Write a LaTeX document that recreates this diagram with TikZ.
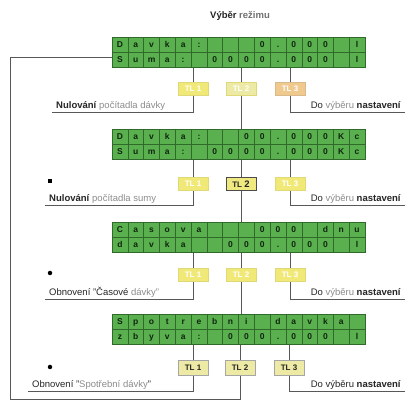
\documentclass[tikz,border=0pt]{standalone}
\usepackage{fontspec}
\setmainfont{Liberation Sans}
\usetikzlibrary{calc}
\definecolor{lcdgreen}{HTML}{5AB04E}
\definecolor{lcdgrid}{HTML}{2F6A2A}
\definecolor{lcdtext}{HTML}{0F260F}
\definecolor{wire}{HTML}{585858}
\definecolor{btnyel}{HTML}{F1E977}
\definecolor{btnpale}{HTML}{EDEAA6}
\definecolor{btnorange}{HTML}{EFC98E}
\definecolor{txtdark}{HTML}{262626}
\definecolor{txtgray}{HTML}{8C8C8C}
\tikzset{
  lcdbox/.style={rectangle, fill=lcdgreen, draw=lcdgrid, line width=0.7pt, minimum width=253pt, minimum height=30pt, inner sep=0pt},
  lcdgridline/.style={draw=lcdgrid, line width=0.5pt},
  lcdch/.style={font=\fontsize{8.5}{9}\selectfont\bfseries, text=lcdtext, inner sep=0pt, text height=6.2pt, text depth=0pt},
  btn/.style={rectangle, minimum width=30pt, minimum height=13pt, inner sep=0pt, font=\fontsize{8}{9}\selectfont\bfseries},
  btnw/.style={btn, fill=btnyel, draw=btnyel!85!gray, text=white},
  btnd/.style={btn, fill=btnpale, draw=gray!70, text=txtdark},
  wire/.style={draw=wire, line width=0.9pt},
  lbl/.style={font=\fontsize{9.5}{10}\selectfont, text=txtdark, inner xsep=4pt, inner ysep=1.5pt},
  bulletsq/.style={rectangle, fill=black, minimum size=4pt, inner sep=0pt},
}
\newcommand{\lcdpanel}[4]{%
  \node[lcdbox, anchor=north west] (#1) at (112,#2) {};
  \foreach \k in {1,...,15}
    \draw[lcdgridline] ($(#1.north west)+(\k*15.8125,0)$) -- ($(#1.south west)+(\k*15.8125,0)$);
  \draw[lcdgridline] (#1.west) -- (#1.east);
  \foreach \c [count=\i from 0] in {#3}
    \node[lcdch] at ($(#1.north west)+(\i*15.8125+7.906,7.5)$) {\c};
  \foreach \c [count=\i from 0] in {#4}
    \node[lcdch] at ($(#1.north west)+(\i*15.8125+7.906,22.5)$) {\c};
}
\begin{document}
\begin{tikzpicture}[x=1pt, y=-1pt]
\useasboundingbox[fill=white] (0,0) rectangle (408,406);

\node[font=\fontsize{9.5}{10}\selectfont\bfseries, text=txtdark] (title) at (240,16) {Výběr \textcolor{txtgray!80!black}{režimu}};

% displays
\lcdpanel{d1}{37}{D,a,v,k,a,:,{},{},{},0,.,0,0,0,{},l}{S,u,m,a,:,{},0,0,0,0,.,0,0,0,{},l}
\lcdpanel{d2}{129}{D,a,v,k,a,:,{},{},0,0,.,0,0,0,K,c}{S,u,m,a,:,{},0,0,0,0,.,0,0,0,K,c}
\lcdpanel{d3}{222}{C,a,s,o,v,a,{},{},{},0,0,0,{},d,n,u}{d,a,v,k,a,{},{},0,0,0,.,0,0,0,{},l}
\lcdpanel{d4}{314}{S,p,o,t,r,e,b,n,i,{},d,a,v,k,a,{}}{z,b,y,v,a,:,{},0,0,0,.,0,0,0,{},l}

% buttons
\node[btnw] (b11) at (193,89) {TL 1};
\node[btnw, fill=btnpale] (b12) at (241,89) {TL 2};
\node[btnw, fill=btnorange, draw=btnorange!80!gray] (b13) at (290,89) {TL 3};
\node[btnw] (b21) at (193,184) {TL 1};
\node[btnd, draw=black!70, line width=0.8pt, fill=btnyel!80!btnpale] (b22) at (241,184) {TL \fontsize{9.5}{10}\selectfont 2};
\node[btnw] (b23) at (290,184) {TL 3};
\node[btnw] (b31) at (193,275) {TL 1};
\node[btnw] (b32) at (241,275) {TL 2};
\node[btnw] (b33) at (290,275) {TL 3};
\node[btnd, minimum height=15pt] (b41) at (193,368) {TL 1};
\node[btnd, minimum height=15pt] (b42) at (240,368) {TL 2};
\node[btnd, minimum height=15pt] (b43) at (289,368) {TL 3};

% labels
\node[lbl, anchor=south west] (l1) at (52,112) {\textbf{Nulování} \textcolor{txtgray}{počítadla dávky}};
\node[lbl, anchor=south east] (r1) at (405,112) {Do \textcolor{txtgray}{výběru} \textbf{nastavení}};
\node[lbl, anchor=south west] (l2) at (45,205) {\textbf{Nulování} \textcolor{txtgray}{počítadla sumy}};
\node[lbl, anchor=south east] (r2) at (405,205) {Do \textcolor{txtgray}{výběru} \textbf{nastavení}};
\node[lbl, anchor=south west] (l3) at (45,299) {Obnovení "Časové \textcolor{txtgray}{dávky"}};
\node[lbl, anchor=south east] (r3) at (405,299) {Do \textcolor{txtgray}{výběru} \textbf{nastavení}};
\node[lbl, anchor=south west] (l4) at (28,391) {Obnovení "\textcolor{txtgray}{Spotřební dávky}"};
\node[lbl, anchor=south east] (r4) at (405,391) {Do výběru \textbf{nastavení}};

% bullets
\node[bulletsq] (m2) at (50,181) {};
\node[bulletsq, circle, minimum size=4.5pt] (m3) at (50,273) {};
\node[bulletsq, circle, minimum size=4.5pt] (m4) at (50,367) {};

% connectors
\foreach \r/\d/\n in {1/d1/d2, 2/d2/d3, 3/d3/d4} {
  \draw[wire] (\d.south -| b\r1) -- (b\r1.north);
  \draw[wire] (\d.south -| b\r2) -- (b\r2.north);
  \draw[wire] (\d.south -| b\r3) -- (b\r3.north);
  \draw[wire] (b\r2.south) -- (\n.north -| b\r2);
  \draw[wire] (b\r1.south) |- (l\r.south west);
  \draw[wire] (b\r3.south) |- (r\r.south east);
}
\draw[wire] (d4.south -| b41) -- (b41.north);
\draw[wire] (d4.south -| b42) -- (b42.north);
\draw[wire] (d4.south -| b43) -- (b43.north);
\draw[wire] (b41.south) |- (l4.south west);
\draw[wire] (b43.south) |- (r4.south east);

\coordinate (lpb) at (10,399);
\coordinate (lpt) at (10,57);
\draw[wire] (b42.south) |- (lpb) -- (lpt) -- (d1.west |- lpt);
\end{tikzpicture}
\end{document}
